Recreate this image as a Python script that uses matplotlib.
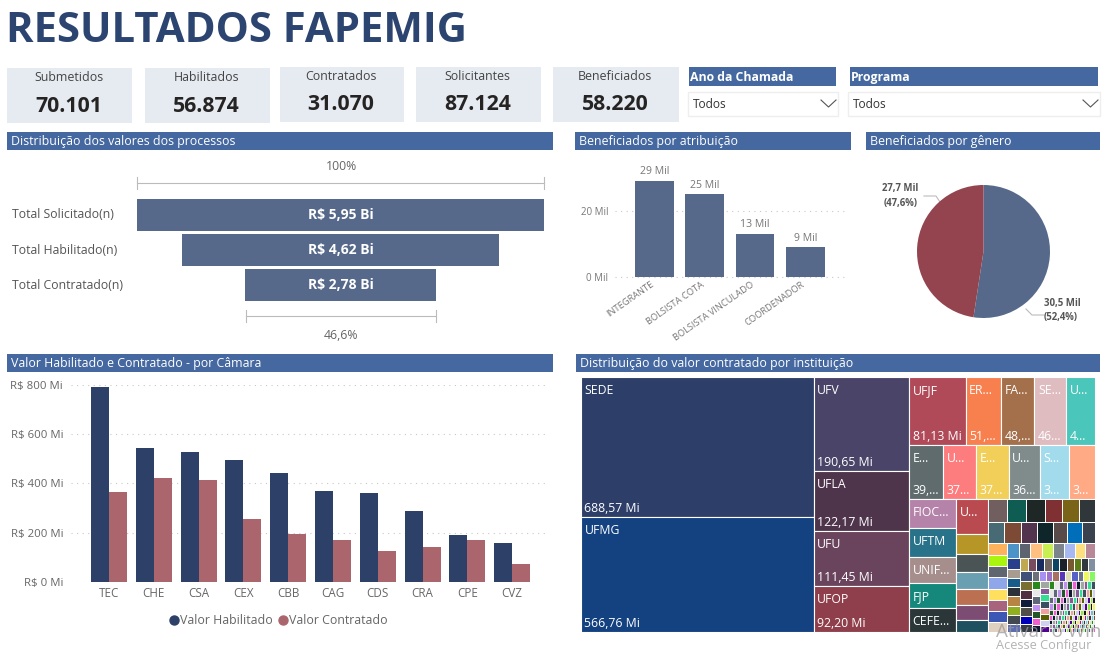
import matplotlib
matplotlib.use('Agg')
import matplotlib.pyplot as plt
from matplotlib.patches import Rectangle
from matplotlib.transforms import ScaledTranslation

plt.rcParams['font.family'] = ['Open Sans', 'DejaVu Sans']

W, H = 1103, 653

# cards
kpi_names = ['Submetidos', 'Habilitados', 'Contratados', 'Solicitantes', 'Beneficiados']
kpi_values = ['70.101', '56.874', '31.070', '87.124', '58.220']

# funnel
funnel_names = ['Total Solicitado(n)', 'Total Habilitado(n)', 'Total Contratado(n)']
funnel_values = [5.95, 4.62, 2.78]

# beneficiados por atribuicao (mil)
role_names = ['INTEGRANTE', 'BOLSISTA COTA', 'BOLSISTA VINCULADO', 'COORDENADOR']
role_values = [29, 25, 13, 9]

# genero (mil)
gender_values = [30.5, 27.7]

# camaras (R$ mi)
camaras = ['TEC', 'CHE', 'CSA', 'CEX', 'CBB', 'CAG', 'CDS', 'CRA', 'CPE', 'CVZ']
habilitado = [793, 545, 527, 493, 441, 370, 359, 286, 188, 156]
contratado = [365, 420, 413, 253, 192, 169, 123, 141, 168, 70]

# treemap, values in R$ mi
col_sede = [688.57, 566.76]
col_ufv = [190.65, 122.17, 111.45, 92.20]
row_ufjf = [81.13, 51.0, 48.0, 46.0, 41.0]
row_second = [39.0, 37.5, 37.0, 36.0, 32.5, 30.0]
col_fioc = [29.6, 28.2, 26.0, 25.0, 24.0]
col_small = [23.5, 13.5, 12.1, 11.2, 10.5, 10.0, 8.2]
row_a = [9.6, 9.2, 9.3, 8.7, 8.2, 8.0]
row_b = [7.3, 7.4, 7.0, 6.8, 6.5, 6.3, 5.9]
col_c = [4.7, 4.7, 4.5, 4.5, 4.6, 4.5, 4.3, 4.1]
row_d = [3.8, 3.8, 3.8, 3.6, 3.5, 3.5, 3.3, 3.2]
col_e = [2.8, 2.5, 2.5, 2.6, 2.5, 2.5, 2.4, 2.3]
row_f = [2.2, 2.1, 2.1, 2.1, 2.0, 2.0, 2.0, 1.9, 1.9, 1.8]
col_g = [2.5, 2.4, 2.3, 2.2, 2.2, 2.1, 2.1]
row_h = [1.45, 1.4, 1.4, 1.35, 1.3, 1.3, 1.3, 1.25, 1.2, 1.2]
col_i = [1.4, 1.35, 1.3, 1.3, 1.25, 1.2, 1.2]
col_j = [1.35, 1.3, 1.3, 1.25, 1.2, 1.2, 1.2, 1.15]
tail_rows = [
    [0.86, 0.83, 0.8, 0.78, 0.76, 0.75, 0.72, 0.71, 0.69, 0.69, 0.67],
    [0.63, 0.62, 0.6, 0.6, 0.58, 0.58, 0.55, 0.55, 0.54, 0.53, 0.52, 0.51, 0.48],
    [0.48, 0.47, 0.46, 0.45, 0.44, 0.44, 0.43, 0.41, 0.4, 0.4, 0.39, 0.38, 0.37, 0.37, 0.35],
    [0.46, 0.45, 0.44, 0.44, 0.43, 0.41, 0.41, 0.4, 0.4, 0.39, 0.38, 0.38, 0.37, 0.36, 0.35],
    [0.35, 0.35, 0.33, 0.32, 0.32, 0.31, 0.31, 0.3, 0.3, 0.29, 0.29, 0.29, 0.28, 0.28, 0.26, 0.26, 0.25],
    [0.32, 0.31, 0.31, 0.3, 0.3, 0.29, 0.29, 0.28, 0.28, 0.28, 0.26, 0.26, 0.25, 0.25, 0.25, 0.24, 0.24, 0.23],
    [0.23, 0.23, 0.22, 0.22, 0.22, 0.21, 0.21, 0.21, 0.21, 0.2, 0.2, 0.2, 0.2, 0.18, 0.18, 0.18, 0.18, 0.17, 0.17, 0.17],
    [0.22, 0.22, 0.21, 0.21, 0.21, 0.21, 0.2, 0.2, 0.2, 0.2, 0.18, 0.18, 0.18, 0.18, 0.17, 0.17, 0.17, 0.17, 0.16, 0.16],
    [0.21, 0.2, 0.2, 0.2, 0.18, 0.18, 0.18, 0.18, 0.17, 0.17, 0.17, 0.17, 0.17, 0.16, 0.16, 0.16, 0.16, 0.16, 0.15, 0.15, 0.15, 0.15],
]

big_labels = {
    688.57: ('SEDE', '688,57 Mi'), 566.76: ('UFMG', '566,76 Mi'),
    190.65: ('UFV', '190,65 Mi'), 122.17: ('UFLA', '122,17 Mi'),
    111.45: ('UFU', '111,45 Mi'), 92.20: ('UFOP', '92,20 Mi'),
}
row1_labels = [('UFJF', '81,13 Mi'), ('ER...', '51,...'), ('FA...', '48,...'), ('SE...', '46...'), ('U...', '4...')]
row2_labels = [('E...', '39,...'), ('U...', '37...'), ('E...', '37...'), ('U...', '36...'), ('S...', '3...'), ('', '3...')]
fioc_labels = ['FIOC...', 'UFTM', 'UNIF...', 'FJP', 'CEFE...']

sede_colors = ['#2d3f68', '#14417f']
ufv_colors = ['#4a4468', '#4f354c', '#6a445c', '#8f3f4b']
row1_colors = ['#b04a58', '#f8804f', '#a3704b', '#dfbcc0', '#4ac6ba']
row2_colors = ['#5f6b6d', '#fd7d7f', '#f2cf58', '#808b8c', '#a2dcec', '#ffa985']
fioc_colors = ['#b583a9', '#28738a', '#a58e8c', '#16877b', '#2b3638']
small_colors = ['#b94a4f', '#b59626', '#4a5455', '#6a9fb2', '#bb7151', '#7c4c72', '#1e5060']
a_colors = ['#705f5e', '#0f5c52', '#1e2726', '#7e3032', '#7a6417', '#30373a']
b_colors = ['#476a75', '#7c4a35', '#53344e', '#0e2529', '#574a48', '#006eb8', '#3a4250']
c_colors = ['#ffb25c', '#a9f50f', '#5f6670', '#8fa6e8', '#ffdf5e', '#a8647c', '#3c58b4', '#e0d0c0']
d_colors = ['#4c94c8', '#5d6470', '#ffc080', '#c8f050', '#7c848c', '#a8b8f0', '#ffe080', '#b88898']
e_colors = ['#28408c', '#a89c90', '#185c8c', '#2c3038', '#b88444', '#90b020', '#444850', '#5c6cb0']
f_colors = ['#c0a850', '#784c5c', '#182c60', '#706860', '#0c4464', '#1c2028', '#785830', '#5c7c18', '#303840', '#8090a0']
g_colors = ['#405078', '#787030', '#503040', '#101c38', '#505048', '#0000b8', '#383c48']
h_colors = ['#6c7078', '#a890f0', '#9c70c8', '#a87060', '#5838b8', '#e0e0b8', '#5860c8', '#6c7488', '#f0f860', '#88f860']
tiny_palette = ['#288818', '#e8e8e8', '#606878', '#c090f0', '#205828', '#f060d0', '#101830', '#a0a8a0',
                '#885898', '#30e090', '#385060', '#f0a0a0', '#586000', '#d0d0f0', '#500090', '#90f030',
                '#181818', '#f0f060', '#b01880', '#70c0d0', '#403030', '#60d8f0', '#905030', '#c8f0b0']


def px_axes(x0, y0, x1, y1):
    ax = fig.add_axes([x0 / W, 1 - y1 / H, (x1 - x0) / W, (y1 - y0) / H])
    ax.patch.set_alpha(0)
    return ax


def strip(x0, y0, x1, y1, text, size=8.9, weight='normal', pad=4):
    bg.add_patch(Rectangle((x0, y0), x1 - x0, y1 - y0, color='#44689f', lw=0))
    bg.text(x0 + pad, (y0 + y1) / 2 + 1, text, color='white', fontsize=size, va='center', weight=weight)


def slice_cells(values, box, horizontal):
    x, y, w, h = box
    total = sum(values)
    out = []
    for v in values:
        if horizontal:
            out.append((x, y, w * v / total, h))
            x += w * v / total
        else:
            out.append((x, y, w, h * v / total))
            y += h * v / total
    return out


def take(box, part, whole, horizontal):
    # cut a share off a box, returns the share and what is left
    x, y, w, h = box
    f = part / whole
    if horizontal:
        return (x, y, w * f, h), (x + w * f, y, w * (1 - f), h)
    return (x, y, w, h * f), (x, y + h * f, w, h * (1 - f))


def draw_cells(values, box, horizontal, colors, lw=0.8):
    cells = slice_cells(values, box, horizontal)
    for i, (x, y, w, h) in enumerate(cells):
        tm.add_patch(Rectangle((x, y), w, h, facecolor=colors[i % len(colors)], edgecolor='white', lw=lw))
    return cells


def cell_text(cell, top, bottom=''):
    x, y, w, h = cell
    if top:
        tm.text(x + 3.5, y + 7, top, color='white', fontsize=8.8, va='top')
    if bottom:
        tm.text(x + 3.5, y + h - 2, bottom, color='white', fontsize=8.8, va='bottom')


fig = plt.figure(figsize=(W / 100, H / 100), dpi=100, facecolor='white')

bg = px_axes(0, 0, W, H)
bg.set_xlim(0, W)
bg.set_ylim(H, 0)
bg.axis('off')

bg.text(6, 32, 'RESULTADOS FAPEMIG', color='#2b4470', fontsize=30.2, weight='bold', va='center')

card_x = [(7, 132), (145, 270), (280, 404), (416, 541), (553, 679)]
card_y = [(68, 123), (68, 123), (67, 122), (67, 122), (67, 122)]
for (x0, x1), (y0, y1), name, val in zip(card_x, card_y, kpi_names, kpi_values):
    bg.add_patch(Rectangle((x0, y0), x1 - x0, y1 - y0, color='#e6eaf1', lw=0))
    bg.text((x0 + x1) / 2 - 1, y0 + 9.5, name, color='#444444', fontsize=8.9, ha='center', va='center')
    bg.text((x0 + x1) / 2 - 1, y0 + 38, val, color='#252423', fontsize=15.3, weight='bold', ha='center', va='center')

strip(689, 67, 836, 86, 'Ano da Chamada', size=8.8, weight='bold', pad=1)
strip(850, 67, 1098, 86, 'Programa', size=8.8, weight='bold', pad=1)
for x0, x1 in [(688, 838), (848, 1100)]:
    bg.add_patch(Rectangle((x0, 92), x1 - x0, 24, facecolor='white', edgecolor='#eeeeee', lw=1))
    bg.text(x0 + 5, 105, 'Todos', color='#333333', fontsize=8.6, va='center')
    bg.plot([x1 - 17, x1 - 9.5, x1 - 2], [100, 107, 100], color='#555555', lw=0.8)

strip(7, 132, 553, 150, 'Distribuição dos valores dos processos')
strip(575, 132, 851, 150, 'Beneficiados por atribuição')
strip(866, 132, 1100, 150, 'Beneficiados por gênero')
strip(7, 354, 553, 372, 'Valor Habilitado e Contratado - por Câmara')
strip(576, 354, 1100, 372, 'Distribuição do valor contratado por instituição')

# funnel
ax = px_axes(137, 197.5, 544, 302.5)
ax.barh(range(3), funnel_values, left=[-v / 2 for v in funnel_values], height=0.91, color='#56698a')
ax.set_xlim(-funnel_values[0] / 2, funnel_values[0] / 2)
ax.set_ylim(2.5, -0.5)
ax.axis('off')
for i, v in enumerate(funnel_values):
    ax.text(0, i, 'R$ ' + f'{v:.2f}'.replace('.', ',') + ' Bi', color='white', fontsize=10,
            weight='bold', ha='center', va='center')
for i, name in enumerate(funnel_names):
    bg.text(12, 215 + 35.2 * i, name, color='#555555', fontsize=8.8, va='center')
for x0, x1, y in [(137, 544, 183), (245.5, 435.5, 316)]:
    bg.plot([x0, x1], [y, y], color='#bbbbbb', lw=0.8)
    bg.plot([x0, x0], [y - 6, y + 6], color='#bbbbbb', lw=0.8)
    bg.plot([x1, x1], [y - 6, y + 6], color='#bbbbbb', lw=0.8)
bg.text(341, 167, '100%', color='#666666', fontsize=8.8, ha='center', va='center')
bg.text(341, 335.5, '46,6%', color='#666666', fontsize=8.8, ha='center', va='center')

# beneficiados por atribuicao
ax = px_axes(615, 160, 846, 277)
ax.bar(range(4), role_values, width=0.77, color='#56698a', zorder=3)
ax.set_xlim(-0.785, 3.81)
ax.set_ylim(0, 117 / 3.31)
ax.set_yticks([0, 20], ['0 Mil', '20 Mil'])
ax.set_xticks(range(4))
ax.set_xticklabels(role_names, rotation=35, ha='right', rotation_mode='anchor', color='#777777', fontsize=6.7)
ax.tick_params(length=0, pad=2)
ax.tick_params(axis='y', labelcolor='#777777', labelsize=7, pad=5)
shift = ScaledTranslation(-4 / 100, 0, fig.dpi_scale_trans)
for lab in ax.get_xticklabels():
    lab.set_transform(lab.get_transform() + shift)
ax.grid(axis='y', color='#c8c8c8', lw=0.8, linestyle=(0, (1, 4)), zorder=0)
for s in ax.spines.values():
    s.set_visible(False)
for i, v in enumerate(role_values):
    ax.text(i, v + 1.1, f'{v} Mil', color='#777777', fontsize=7.6, ha='center', va='bottom')
bg.plot([615, 846], [277, 277], color='#c8c8c8', lw=0.8, linestyle=(0, (1, 4)), zorder=0)

# genero
ax = px_axes(917, 185, 1050, 318)
ax.pie(gender_values, colors=['#56698a', '#93444e'], startangle=90, counterclock=False, radius=1.0)
ax.set_xlim(-1, 1)
ax.set_ylim(-1, 1)
bg.plot([924, 936, 940], [196, 196, 202], color='#bbbbbb', lw=0.8)
bg.plot([1026, 1032, 1044], [309, 315, 315], color='#bbbbbb', lw=0.8)
bg.text(918, 196, '27,7 Mil\n(47,6%)', color='#555555', fontsize=6.9, ha='right', va='center', weight='bold', linespacing=1.45)
bg.text(1044, 310.5, '30,5 Mil\n(52,4%)', color='#555555', fontsize=6.9, ha='left', va='center', weight='bold', linespacing=1.45)

# camaras
ax = px_axes(71.4, 385, 544.6, 581.7)
xs = list(range(len(camaras)))
ax.bar([x - 0.2 for x in xs], habilitado, width=0.4, color='#2c4068', zorder=3)
ax.bar([x + 0.2 for x in xs], contratado, width=0.4, color='#aa666c', zorder=3)
ax.set_xlim((71.4 - 109) / 44.8, (544.6 - 109) / 44.8)
ax.set_ylim(0, 800)
ax.set_yticks([0, 200, 400, 600, 800], ['R$ 0 Mi', 'R$ 200 Mi', 'R$ 400 Mi', 'R$ 600 Mi', 'R$ 800 Mi'])
ax.set_xticks(xs, camaras)
ax.tick_params(length=0)
ax.tick_params(axis='x', labelcolor='#666666', labelsize=8.4, pad=4)
ax.tick_params(axis='y', labelcolor='#666666', labelsize=8.2, pad=6)
ax.grid(axis='y', color='#c8c8c8', lw=0.8, linestyle=(0, (1, 4)), zorder=0)
for s in ax.spines.values():
    s.set_visible(False)
bg.plot([173.5, 282.5], [620, 620], ls='', marker='o', ms=0)
bg.plot(173.5, 620, marker='o', color='#2c4068', ms=6.5)
bg.plot(282.5, 620, marker='o', color='#aa666c', ms=6.5)
bg.text(180, 620.5, 'Valor Habilitado', color='#666666', fontsize=8.9, va='center')
bg.text(289, 620.5, 'Valor Contratado', color='#666666', fontsize=8.9, va='center')

# treemap
tm = px_axes(581, 377, 1095, 632)
tm.set_xlim(581, 1095)
tm.set_ylim(632, 377)
tm.axis('off')

groups_c3 = [row_a, row_b, col_c, row_d, col_e, row_f, col_g, row_h, col_i, col_j] + tail_rows
c3_total = sum(sum(g) for g in groups_c3)
c_total = sum(row_ufjf) + sum(row_second) + sum(col_fioc) + sum(col_small) + c3_total
total = sum(col_sede) + sum(col_ufv) + c_total

box = (581, 377, 514, 255)
left, box = take(box, sum(col_sede), total, True)
cells = draw_cells(col_sede, left, False, sede_colors)
for c, v in zip(cells, col_sede):
    cell_text(c, *big_labels[v])
left, box = take(box, sum(col_ufv), total - sum(col_sede), True)
cells = draw_cells(col_ufv, left, False, ufv_colors)
for c, v in zip(cells, col_ufv):
    cell_text(c, *big_labels[v])

rest = c_total
row, box = take(box, sum(row_ufjf), rest, False)
cells = draw_cells(row_ufjf, row, True, row1_colors)
for c, lab in zip(cells, row1_labels):
    cell_text(c, *lab)
rest -= sum(row_ufjf)
row, box = take(box, sum(row_second), rest, False)
cells = draw_cells(row_second, row, True, row2_colors)
for c, lab in zip(cells, row2_labels):
    cell_text(c, *lab)
rest -= sum(row_second)
col, box = take(box, sum(col_fioc), rest, True)
cells = draw_cells(col_fioc, col, False, fioc_colors)
for c, lab in zip(cells, fioc_labels):
    cell_text(c, lab)
rest -= sum(col_fioc)
col, box = take(box, sum(col_small), rest, True)
cells = draw_cells(col_small, col, False, small_colors)
cell_text(cells[0], 'U...')
rest -= sum(col_small)

# the small ones go on alternating rows and columns
steps = [(row_a, False, a_colors), (row_b, False, b_colors), (col_c, True, c_colors), (row_d, False, d_colors),
         (col_e, True, e_colors), (row_f, False, f_colors), (col_g, True, g_colors), (row_h, False, h_colors),
         (col_i, True, tiny_palette), (col_j, True, tiny_palette[7:])]
for vals, cut_side, colors in steps:
    part, box = take(box, sum(vals), rest, cut_side)
    draw_cells(vals, part, not cut_side, colors, lw=0.7)
    rest -= sum(vals)
for i, vals in enumerate(tail_rows):
    part, box = take(box, sum(vals), rest, False)
    draw_cells(vals, part, True, tiny_palette[i:] + tiny_palette[:i], lw=0.5)
    rest -= sum(vals)

# windows watermark, the reference cuts it at the edge
fig.text(996 / W, 1 - 632 / H, 'Ativar o Win', color='#9a9a9a', alpha=0.75, fontsize=13.5, va='center', zorder=20)
fig.text(996 / W, 1 - 646 / H, 'Acesse Configur', color='#9a9a9a', alpha=0.75, fontsize=9.2, va='center', zorder=20)

fig.savefig('out.png', dpi=100)
